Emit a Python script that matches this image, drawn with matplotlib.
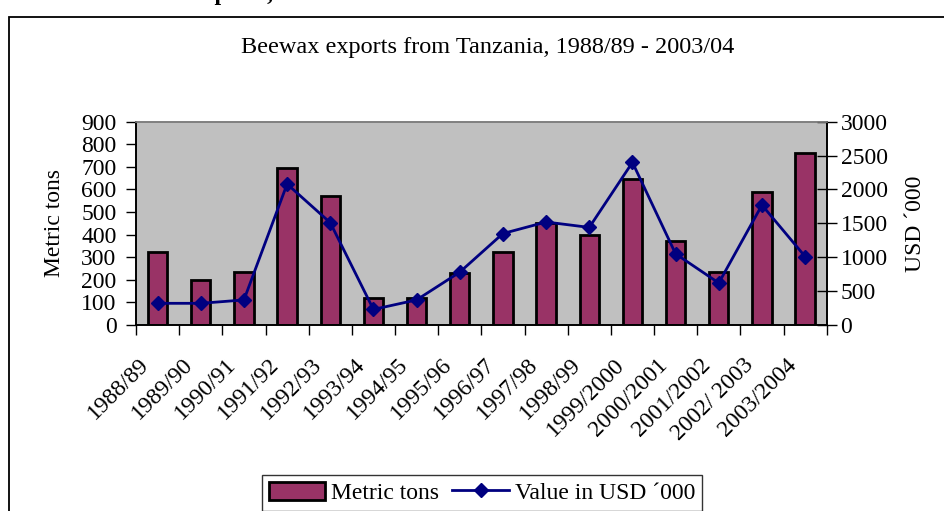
import matplotlib
matplotlib.use("Agg")
import matplotlib.pyplot as plt
import numpy as np
from matplotlib.transforms import ScaledTranslation
from matplotlib.patches import Rectangle
from matplotlib.lines import Line2D
from matplotlib.patches import Patch

years = ["1988/89", "1989/90", "1990/91", "1991/92", "1992/93", "1993/94",
         "1994/95", "1995/96", "1996/97", "1997/98", "1998/99", "1999/2000",
         "2000/2001", "2001/2002", "2002/ 2003", "2003/2004"]
metric_tons = [325, 200, 235, 695, 570, 120, 120, 230, 325, 450, 400, 645,
               370, 235, 590, 760]
value_usd = [320, 320, 370, 2080, 1510, 230, 370, 780, 1350, 1520, 1440, 2400,
             1050, 620, 1770, 1010]
left_ticks = list(range(0, 901, 100))
right_ticks = list(range(0, 3001, 500))

plt.rcParams['font.family'] = ['Liberation Serif', 'DejaVu Serif']
FS = 17

fig = plt.figure(figsize=(9.45, 5.11), dpi=100)
W, H = 945, 511
ax_l, ax_r, ax_t, ax_b = 136, 826.7, 121.7, 325
ax = fig.add_axes([ax_l / W, 1 - ax_b / H, (ax_r - ax_l) / W, (ax_b - ax_t) / H])
ax2 = ax.twinx()

x = np.arange(len(years))
ax.set_facecolor('#C0C0C0')
ax.bar(x, metric_tons, width=0.45, color='#993366', edgecolor='black',
       linewidth=2, zorder=2)
ax2.plot(x, value_usd, color='#000080', linewidth=2, marker='D',
         markersize=7.5, markerfacecolor='#000080', markeredgecolor='#000080',
         zorder=3)

ax.set_xlim(-0.5, len(years) - 0.5)
ax.set_ylim(0, 900)
ax2.set_ylim(0, 3000)
ax.set_yticks(left_ticks)
ax2.set_yticks(right_ticks)
ax.tick_params(axis='y', direction='out', length=7, width=1, pad=7, labelsize=FS)
ax2.tick_params(axis='y', direction='inout', length=14, width=1, pad=3, labelsize=FS)

ax.set_xticks(np.arange(len(years) + 1) - 0.5, minor=False)
ax.set_xticklabels([])
ax.set_xticks(x, minor=True)
ax.set_xticklabels(years, minor=True, rotation=45, ha='right', va='top',
                   rotation_mode='anchor', fontsize=FS)
ax.tick_params(axis='x', which='major', direction='out', length=7, width=1)
ax.tick_params(axis='x', which='minor', length=0, pad=21)
off = ScaledTranslation(-19 / 100, 0, fig.dpi_scale_trans)
for lab in ax.get_xticklabels(minor=True):
    lab.set_transform(lab.get_transform() + off)

for a in (ax, ax2):
    a.spines['top'].set_color('#808080')
    a.spines['left'].set_color('black')
    a.spines['right'].set_color('black')
    a.spines['bottom'].set_color('black')
    for s in a.spines.values():
        s.set_linewidth(1.2)

ax.set_ylabel('Metric tons', fontsize=FS)
ax.yaxis.set_label_coords((65 - ax_l) / (ax_r - ax_l), 0.5)
ax2.set_ylabel('USD \u00b4000', fontsize=FS)
ax2.yaxis.set_label_coords((905 - ax_l) / (ax_r - ax_l), 0.5)

fig.text(488 / W, 1 - 47 / H, 'Beewax exports from Tanzania, 1988/89 - 2003/04',
         ha='center', va='center', fontsize=17.5)
fig.text(8 / W, 1.0, 'Chart 1: Beeswax exports, 1988/89 \u2013 2003/04',
         ha='left', va='baseline', fontsize=17, fontweight='bold')

fig.patches.append(Rectangle((9 / W, -0.05), 1.2, 1 - 17 / H + 0.05,
                             transform=fig.transFigure, fill=False,
                             edgecolor='black', linewidth=1.3))

handles = [Patch(facecolor='#993366', edgecolor='black', linewidth=2),
           Line2D([0], [0], color='#000080', linewidth=2, marker='D',
                  markersize=7.5, markerfacecolor='#000080')]
leg = fig.legend(handles, ['Metric tons', 'Value in USD \u00b4000'],
                 loc='upper center', bbox_to_anchor=(482 / W, 1 - 474.6 / H),
                 ncol=2, frameon=True, fancybox=False, fontsize=FS,
                 handlelength=2.4, handleheight=0.8, handletextpad=0.25,
                 columnspacing=0.55, borderpad=0.3, borderaxespad=0)
leg.get_frame().set_edgecolor('black')
leg.get_frame().set_linewidth(1)

fig.savefig('out.png', dpi=100)
